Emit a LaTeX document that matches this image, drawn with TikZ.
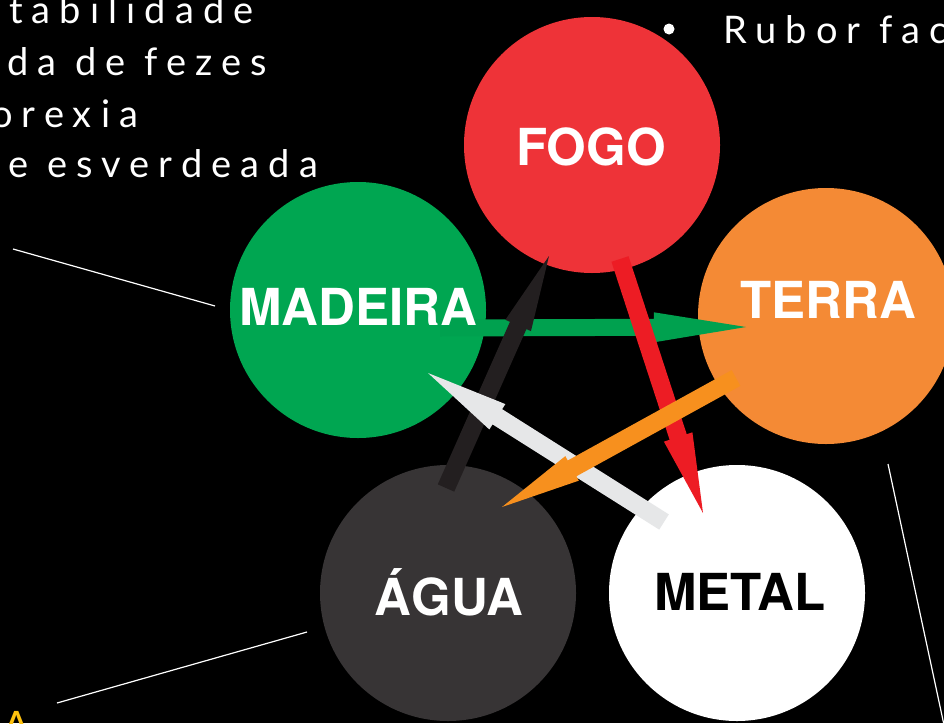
\documentclass[tikz,border=0pt]{standalone}
\usepackage{fontspec}
\setmainfont{Lato}
\newfontfamily\labelfont{TeX Gyre Heros}
\newfontfamily\bodyfont[LetterSpace=24]{Lato}
\usetikzlibrary{calc}
\definecolor{cfogo}{HTML}{EE3338}
\definecolor{cterra}{HTML}{F48A35}
\definecolor{cmadeira}{HTML}{00A651}
\definecolor{cagua}{HTML}{373435}
\definecolor{aGreen}{HTML}{00A14F}
\definecolor{aBlack}{HTML}{231F20}
\definecolor{aRed}{HTML}{ED1C24}
\definecolor{aOrange}{HTML}{F7901E}
\definecolor{aGray}{HTML}{E6E7E8}
\definecolor{cyellow}{HTML}{FFC20E}
% #1 colour, #2 tail, #3 tip, #4 shaft half width, #5 head half width, #6 head length
\newcommand\blockarrow[6]{%
  \coordinate (#2hb) at ($(#3)!#6!(#2)$);
  \fill[#1] ($(#2)!#4!90:(#3)$) -- ($(#2hb)!#4!90:(#3)$) -- ($(#2hb)!#5!90:(#3)$)
    -- (#3) -- ($(#2hb)!#5!-90:(#3)$) -- ($(#2hb)!#4!-90:(#3)$)
    -- ($(#2)!#4!-90:(#3)$) -- cycle;}
\begin{document}
\begin{tikzpicture}[x=1pt,y=-1pt,
  elem/.style={circle,minimum size=256pt,inner sep=0pt,draw=none},
  lbl/.style={font=\labelfont\bfseries\fontsize{51}{51}\selectfont,anchor=base,inner sep=0pt},
  body/.style={font=\bodyfont\fontsize{38}{38}\selectfont,text=white,anchor=base west,inner sep=0pt},
  pointer/.style={draw=white,line width=1.2pt}]
\fill[black] (0,0) rectangle (944,723);
\useasboundingbox (0,0) rectangle (944,723);
\clip (0,0) rectangle (944,723);

% side texts
\node[body] (t1) at (9,23) {tabilidade};
\node[body] (t2) at (7,75) {da de fezes};
\node[body] (t3) at (-9,127) {orexia};
\node[body] (t4) at (8,177) {e esverdeada};
\node[body] (t5) at (723,43) {Rubor fac};
\fill[white] (669,29) circle (5.5);
\node[font=\fontsize{42}{42}\selectfont,text=cyellow,anchor=base,inner sep=0pt] (ya) at (17,741) {A};

% pointer lines
\coordinate (p1a) at (13,249); \coordinate (p1b) at (215,306);
\coordinate (p2a) at (57,703); \coordinate (p2b) at (307,632);
\coordinate (p3a) at (888,464); \coordinate (p3b) at (944,725);
\draw[pointer] (p1a) -- (p1b);
\draw[pointer] (p2a) -- (p2b);
\draw[pointer] (p3a) -- (p3b);

% elements
\node[elem,fill=cfogo] (fogo) at (592,145) {};
\node[elem,fill=cmadeira] (madeira) at (358,310) {};
\node[elem,fill=cterra] (terra) at (826,316) {};
\node[elem,fill=cagua] (agua) at (448,593) {};
\node[elem,fill=white] (metal) at (737,593) {};

% arrows
\coordinate (gT) at (440,328); \coordinate (gH) at (746,327);
\coordinate (kT) at (446,488); \coordinate (kH) at (549,256);
\coordinate (rT) at (620,259); \coordinate (rH) at (703,513);
\coordinate (oT) at (736,378); \coordinate (oH) at (502,507);
\coordinate (wT) at (664,522); \coordinate (wH) at (428,373);
\blockarrow{aGreen}{gT}{gH}{8.5pt}{15pt}{92pt}
\blockarrow{aBlack}{kT}{kH}{9pt}{14pt}{76pt}
\blockarrow{aRed}{rT}{rH}{9pt}{15pt}{80pt}
\blockarrow{aGray}{wT}{wH}{9pt}{15pt}{82pt}
\blockarrow{aOrange}{oT}{oH}{9pt}{14pt}{80pt}

% labels
\node[lbl,text=white] (lfogo) at (591,165) {FOGO};
\node[lbl,text=white] (lmadeira) at (358,325) {MADEIRA};
\node[lbl,text=white] (lterra) at (828,318) {TERRA};
\node[lbl,text=white] (lagua) at (449,615) {ÁGUA};
\node[lbl,text=black] (lmetal) at (740,610) {METAL};
\end{tikzpicture}
\end{document}
